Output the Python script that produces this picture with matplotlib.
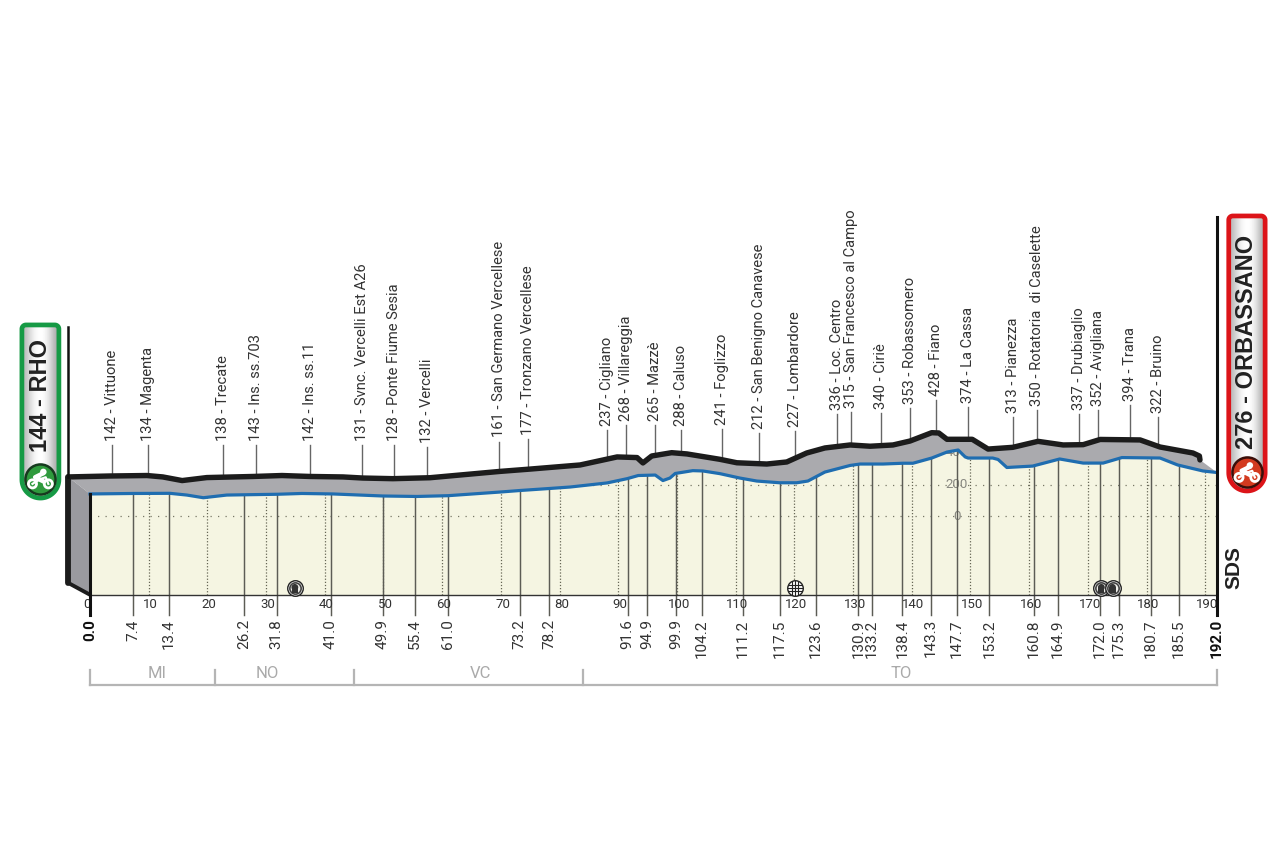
import numpy as np
import matplotlib
matplotlib.use('Agg')
import matplotlib.pyplot as plt
from matplotlib.patches import Polygon

TEXT_FONT = ['Roboto', 'Liberation Sans', 'DejaVu Sans']
BOLD_FONT = ['Liberation Sans', 'DejaVu Sans']
plt.rcParams['font.family'] = TEXT_FONT

# road profile (blue line): km, metres
profile_km = [0, 7.3, 13.6, 16.5, 19.3, 23.3, 31.9, 36.1, 41.4, 49.9, 55.7, 61, 69.8, 73.3, 78.4, 81.8, 88.1,
              91.5, 93.4, 96.3, 97.6, 98.8, 99.7, 102.7, 104.4, 107.3, 110.7, 113.6, 117.5, 120.4, 122.3,
              125.2, 129.5, 131.2, 135.1, 138.5, 140.2, 143.4, 146, 147.9, 149.1, 149.6, 153.8, 154.7, 156.2,
              160.6, 165.2, 169.2, 172.6, 175.8, 182.3, 185.3, 189.6, 192]
profile_m = [140, 143, 144, 133, 116, 133, 138, 143, 140, 127, 124, 129, 152, 162, 175, 184, 210,
             237, 257, 260, 225, 241, 270, 288, 286, 269, 241, 222, 211, 211, 222,
             279, 321, 330, 330, 335, 335, 368, 406, 419, 375, 368, 368, 359, 308,
             317, 362, 336, 336, 371, 368, 324, 286, 276]

# back edge of the 3d ribbon (black line)
ridge_km = [-3.7, 3.4, 9.7, 12.4, 15.7, 19.9, 27.8, 32.7, 37.5, 43.1, 46.5, 51.6, 57.9, 69.8, 75, 83.5, 89.8,
            93.2, 94.2, 95.7, 99.1, 101.7, 107.3, 110.2, 115.3, 118.7, 122.1, 125.2, 129.5, 132.9, 136.8,
            139.7, 143.4, 144.6, 146, 150.3, 153, 157.2, 161.5, 165.8, 169.2, 172.1, 178.9, 182.3, 187.9,
            189, 189.1]
ridge_m = [248, 254, 257, 248, 225, 244, 251, 257, 251, 248, 241, 237, 243, 283, 298, 324, 375,
           371, 337, 381, 402, 394, 360, 338, 330, 343, 400, 432, 451, 443, 451,
           476, 529, 527, 487, 487, 425, 436, 474, 451, 453, 486, 483, 438, 400,
           381, 356]

towns = ['142 - Vittuone', '134 - Magenta', '138 - Trecate', '143 - Ins. ss.703', '142 - Ins. ss.11',
         '131 - Svnc. Vercelli Est A26', '128 - Ponte Fiume Sesia', '132 - Vercelli',
         '161 - San Germano Vercellese', '177 - Tronzano Vercellese', '237 - Cigliano', '268 - Villareggia',
         '265 - Mazzè', '288 - Caluso', '241 - Foglizzo', '212 - San Benigno Canavese', '227 - Lombardore',
         '336 - Loc. Centro', '315 - San Francesco al Campo', '340 - Ciriè', '353 - Robassomero', '428 - Fiano',
         '374 - La Cassa', '313 - Pianezza', '350 - Rotatoria  di Caselette', '337 - Drubiaglio',
         '352 - Avigliana', '394 - Trana', '322 - Bruino']
town_km = [7.4, 13.4, 26.2, 31.8, 41.0, 49.9, 55.4, 61.0, 73.2, 78.2, 91.6, 94.9, 99.9, 104.2, 111.2, 117.5,
           123.6, 130.9, 133.2, 138.4, 143.3, 147.7, 153.2, 160.8, 164.9, 172.0, 175.3, 180.7, 185.5]
stick_top = [451, 451, 451, 451, 451, 451, 451, 440, 472, 489, 546, 578, 578, 546, 552, 527, 540,
             648, 660, 654, 686, 736, 692, 629, 673, 648, 673, 705, 629]

km_ticks = [0, 10, 20, 30, 40, 50, 60, 70, 80, 90, 100, 110, 120, 130, 140, 150, 160, 170, 180, 190]

regions = ['MI', 'NO', 'VC', 'TO']
region_edges = [0, 21.3, 45, 84, 192]
region_label_km = [11.5, 30.2, 66.6, 138.2]

tunnels_km = [34.9, 172.3, 174.2]
crossing_km = [120.1]

PX_KM = 1127 / 192       # pixels per km
PX_M = 31.5 / 200        # pixels per metre
SHIFT = 21 / PX_KM       # ribbon offset, in km
BASE = -500
TICK_END = -630

fig = plt.figure(figsize=(12.8, 8.52), dpi=100)
ax = fig.add_axes([0, 0, 1, 1])
ax.set_xlim(-90 / PX_KM, (1280 - 90) / PX_KM)
ax.set_ylim((516 - 852) / PX_M, 516 / PX_M)
ax.axis('off')

INK = '#333333'
GREY = '#aaaaae'
BLUE = '#1f6db0'

# plane under the road
ax.fill_between(profile_km, profile_m, BASE, color='#f5f5e2', lw=0, zorder=1)

# dotted height lines and height labels
for h in [0, 200]:
    ax.plot([0, 192], [h, h], color='#777766', lw=0.9, ls=(0, (1, 5)), zorder=2)
for h in [0, 200, 400]:
    ax.text(147.7, h, str(h), color='#888880', fontsize=9.5, ha='center', va='center', zorder=2)

# dotted km lines
for k in km_ticks[1:]:
    top = np.interp(k, profile_km, profile_m)
    ax.plot([k, k], [BASE, top], color='#666655', lw=0.9, ls=(0, (1, 1.5)), zorder=2)
for k in km_ticks:
    ax.text(k + (0.3 if k else -0.5), -565, str(k), color=INK, fontsize=9.5, ha='center', va='center', zorder=6)

# ribbon between road and back edge
ribbon_x = ridge_km + profile_km[::-1]
ribbon_y = ridge_m + profile_m[::-1]
ax.add_patch(Polygon(np.column_stack([ribbon_x, ribbon_y]), closed=True, fc=GREY, ec='none', zorder=3))

# left wall
ax.add_patch(Polygon([[-3.7, 248], [0, 140], [0, BASE], [-3.7, -425]], closed=True, fc='#9a9a9f', ec='none', zorder=3))
ax.plot([-3.7, -3.7], [248, -425], color='#1c1c1c', lw=4.2, solid_capstyle='round', zorder=5)
ax.plot([-3.7, 0], [-425, BASE], color='#1c1c1c', lw=2.8, solid_capstyle='round', zorder=5)

# town markers
for name, k, top in zip(towns, town_km, stick_top):
    ax.plot([k, k], [TICK_END, np.interp(k, profile_km, profile_m)], color='#5c5c55', lw=1.05, zorder=4)
    kr = k - SHIFT
    ax.plot([kr, kr], [np.interp(kr, ridge_km, ridge_m), top], color='#666666', lw=1.0, zorder=2)
    ax.annotate(name, (kr, top), xytext=(0, 3), textcoords='offset points', rotation=90,
                ha='center', va='bottom', fontsize=10.6, color=INK)
    ax.text(k, -655, f'{k:.1f}', rotation=90, ha='center', va='top', fontsize=11, color=INK)

ax.text(0, -655, '0.0', rotation=90, ha='center', va='top', fontsize=11, fontweight='bold', color='#111111')
ax.text(192, -655, '192.0', rotation=90, ha='center', va='top', fontsize=11, fontweight='bold', color='#111111')

# baseline, road, back edge
ax.plot([0, 192], [BASE, BASE], color='#333333', lw=1.0, zorder=4)
ax.plot(profile_km, profile_m, color=BLUE, lw=2.3, solid_joinstyle='round', zorder=6)
ax.plot(ridge_km, ridge_m, color='#1c1c1c', lw=3.9, solid_joinstyle='round', solid_capstyle='round', zorder=6)

# start and finish posts
ax.plot([0, 0], [TICK_END, 140], color='#111111', lw=2.2, zorder=6)
ax.plot([-3.7, -3.7], [248, 1200], color='#111111', lw=1.8, zorder=6)
ax.plot([192, 192], [TICK_END, 1898], color='#111111', lw=2.2, zorder=6)

# tunnels and level crossing
for k in tunnels_km:
    ax.scatter([k], [-457], s=125, fc='white', ec='#222222', lw=1.0, zorder=7)
    ax.scatter([k], [-457], s=66, fc='#eeeeea', ec='#444444', lw=1.2, zorder=7)
    ax.scatter([k], [-453], s=24, fc='#333333', ec='none', zorder=7)
    ax.scatter([k], [-472], s=20, marker='s', fc='#333333', ec='none', zorder=7)
for k in crossing_km:
    ax.scatter([k], [-457], s=125, fc='white', ec='#222222', lw=1.0, zorder=7)
    for dk in [-0.5, 0, 0.5]:
        ax.plot([k + dk, k + dk], [-500, -414], color='#222222', lw=0.8, zorder=8)
    for dh in [-22, 0, 22]:
        ax.plot([k - 1.2, k + 1.2], [-457 + dh, -457 + dh], color='#222222', lw=0.8, zorder=8)

# provinces
ax.plot([0, 192], [-1076, -1076], color='#b5b5b5', lw=1.6, zorder=2)
for e in region_edges:
    ax.plot([e, e], [-1076, -978], color='#b5b5b5', lw=1.6, zorder=2)
for r, k in zip(regions, region_label_km):
    ax.text(k, -1000, r, color='#aaaaaa', fontsize=12, ha='center', va='center')

ax.text(194.8, -330, 'SDS', rotation=90, ha='center', va='center', fontsize=15, fontweight='bold',
        color='#222222', family=BOLD_FONT)


def pill(k0, k1, m0, m1):
    # outline with a full round bottom and small round top corners
    r_b = (k1 - k0) / 2
    r_t = 4 / PX_KM
    a = np.linspace(np.pi, 2 * np.pi, 40)
    b = np.linspace(0, np.pi / 2, 10)
    c = np.linspace(np.pi / 2, np.pi, 10)
    ratio = PX_KM / PX_M
    xs = np.r_[k0 + r_b + r_b * np.cos(a), k1 - r_t + r_t * np.cos(b), k0 + r_t + r_t * np.cos(c)]
    ys = np.r_[m0 + r_b * ratio + r_b * ratio * np.sin(a),
               m1 - r_t * ratio + r_t * ratio * np.sin(b), m1 - r_t * ratio + r_t * ratio * np.sin(c)]
    return np.column_stack([xs, ys])


def badge(k0, k1, m0, m1, edge, circle, ring, label, label_m, disc_m):
    box = Polygon(pill(k0, k1, m0, m1), closed=True, fc='none', ec=edge, lw=3.4, joinstyle='round', zorder=9)
    img = ax.imshow(np.array([[0.72, 0.9, 1.0, 1.0, 0.88, 0.66]]), cmap='gray', vmin=0, vmax=1, aspect='auto',
                    extent=(k0, k1, m0, m1), zorder=8, interpolation='bicubic')
    ax.add_patch(box)
    img.set_clip_path(box)
    mid = (k0 + k1) / 2
    ax.text(mid, label_m, label, rotation=90, ha='center', va='center', fontsize=17, fontweight='bold',
            color='#222222', zorder=10, family=BOLD_FONT)
    # disc with a bike drawn on it
    ax.scatter([mid], [disc_m], s=470, fc=circle, ec=ring, lw=1.8, zorder=10)
    for d in [-1.35, 1.35]:
        ax.scatter([mid + d], [disc_m - 34], s=34, fc='none', ec='white', lw=2.0, zorder=11)
    ax.plot([mid - 1.35, mid - 0.1, mid + 0.9, mid + 1.35], [disc_m - 34, disc_m - 5, disc_m + 8, disc_m - 34],
            color='white', lw=1.6, zorder=11)
    ax.scatter([mid + 0.5], [disc_m + 42], s=22, fc='white', ec='none', zorder=11)
    ax.plot([mid + 0.3, mid - 0.9, mid + 0.5], [disc_m + 30, disc_m + 8, disc_m - 18], color='white', lw=3.2, zorder=11)


badge(-11.6, -5.3, 114, 1213, '#169a45', '#2f9a3d', '#163a1e', '144 - RHO', 762, 238)
badge(194.0, 200.2, 159, 1905, '#dc1419', '#d33a1f', '#3a0f0a', '276 - ORBASSANO', 1105, 279)

ax.set_xlim(-90 / PX_KM, (1280 - 90) / PX_KM)
ax.set_ylim((516 - 852) / PX_M, 516 / PX_M)
fig.savefig('out.png', dpi=100)
